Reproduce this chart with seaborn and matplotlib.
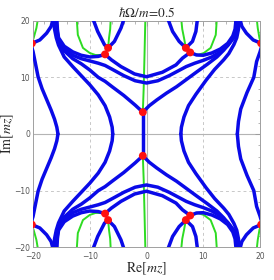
import pandas as pd
import matplotlib
matplotlib.use("Agg")
import matplotlib.pyplot as plt
import seaborn as sns
from matplotlib.ticker import MultipleLocator

# Points read off the upper half plane (Im > 0).
# The picture is mirrored in the real axis, so the lower half reuses them.

# blue lines
outer_left = [(-20.2, 15.2), (-20.0, 14.6), (-19.6, 12.6), (-19.1, 10.1), (-18.4, 8.0),
              (-17.6, 6.1), (-16.8, 4.2), (-16.2, 2.6), (-15.8, 1.2), (-15.6, 0.0)]
outer_right = [(20.2, 15.2), (20.0, 14.5), (19.4, 12.8), (18.9, 10.0), (17.7, 7.3),
               (16.6, 4.4), (16.2, 2.2), (16.0, 0.0)]
edge_arc_left = [(-20.2, 16.0), (-18.8, 16.6), (-17.6, 17.8), (-16.8, 19.0), (-16.4, 20.5)]
edge_arc_right = [(20.2, 16.0), (18.8, 16.6), (17.6, 17.8), (16.8, 19.0), (16.4, 20.5)]
mid_left = [(-16.4, 20.5), (-16.2, 18.5), (-15.9, 17.0), (-15.5, 15.7), (-14.5, 13.6),
            (-13.0, 11.9), (-11.5, 10.3), (-10.0, 8.7), (-8.5, 6.9), (-7.3, 5.0),
            (-6.5, 3.0), (-6.05, 1.2), (-5.95, 0.0)]
mid_right = [(16.4, 20.5), (16.2, 18.5), (15.9, 17.0), (15.4, 15.8), (14.5, 14.2),
             (13.6, 13.1), (12.0, 11.4), (10.5, 9.5), (8.7, 7.0), (7.4, 5.0),
             (6.6, 3.0), (6.15, 1.2), (6.05, 0.0)]
v_left = [(-16.2, 20.5), (-16.0, 18.5), (-15.5, 16.2), (-14.5, 14.7), (-13.0, 13.3),
          (-11.5, 12.4), (-10.0, 11.3), (-8.5, 10.0), (-7.3, 9.3), (-6.0, 8.3),
          (-4.0, 6.8), (-2.0, 5.1), (-0.65, 3.85)]
v_right = [(16.2, 20.5), (16.0, 18.5), (15.5, 17.2), (14.75, 16.2), (13.6, 14.8),
           (12.4, 13.6), (10.7, 12.3), (8.9, 11.0), (7.0, 9.6), (5.3, 8.35),
           (3.5, 7.2), (1.8, 6.0), (0.5, 5.0), (-0.65, 3.85)]
bowl = [(-16.0, 20.5), (-15.8, 18.5), (-15.5, 16.6), (-14.5, 15.0), (-13.0, 13.9),
        (-11.5, 13.3), (-10.0, 12.9), (-8.5, 12.5), (-7.3, 12.1), (-6.0, 11.4),
        (-4.0, 10.3), (-2.0, 9.4), (0.0, 9.0), (2.0, 9.4), (4.0, 10.3), (5.5, 11.1),
        (7.0, 11.9), (8.5, 12.5), (10.0, 13.0), (11.5, 13.6), (13.0, 14.5),
        (14.3, 15.6), (15.3, 17.0), (15.8, 18.5), (16.0, 20.5)]
fan_left = [(-15.8, 20.5), (-15.7, 18.5), (-15.5, 17.0), (-14.5, 15.5), (-13.0, 14.5),
            (-11.5, 13.9), (-10.0, 13.6), (-8.5, 13.7), (-7.3, 14.06)]
fan_right = [(15.8, 20.5), (15.6, 18.5), (15.2, 17.3), (14.3, 16.0), (13.0, 15.0),
             (11.5, 14.3), (10.0, 13.9), (8.8, 13.95), (7.7, 14.4)]
inner_arc = [(-7.3, 14.06), (-6.2, 13.1), (-4.5, 11.9), (-2.1, 10.6), (0.0, 10.1),
             (2.8, 10.9), (5.2, 12.2), (6.35, 13.4), (7.7, 14.4)]
cup_left = [(-9.5, 20.5), (-8.6, 18.1), (-7.4, 15.75), (-6.77, 15.2), (-5.65, 16.35),
            (-4.5, 18.7), (-3.9, 20.5)]
cup_right = [(3.7, 20.5), (4.6, 18.1), (5.75, 16.35), (6.93, 15.2), (8.1, 16.35),
             (8.7, 18.1), (9.0, 20.5)]
axis_stem = [(-0.65, 3.85), (-0.65, 0.0)]

# green lines
green_center = [(-0.65, 3.85), (-0.5, 8.0), (-0.35, 14.0), (-0.2, 20.5)]
green_cup_left = [(-12.3, 20.5), (-12.1, 17.5), (-11.2, 15.2), (-10.0, 14.3),
                  (-9.0, 13.95), (-8.0, 13.95), (-7.3, 14.06)]
green_up_left = [(-6.77, 15.2), (-6.6, 17.0), (-6.4, 18.5), (-6.3, 20.5)]
green_cup_right = [(12.4, 20.5), (12.2, 17.5), (11.3, 15.2), (10.1, 14.3),
                   (9.2, 14.0), (8.3, 14.1), (7.7, 14.4)]
green_up_right = [(6.93, 15.2), (6.6, 17.0), (6.3, 18.5), (6.1, 20.5)]
green_edge_left = [(-20.2, 16.1), (-19.9, 16.9), (-19.4, 18.7), (-19.1, 20.5)]
green_edge_right = [(20.2, 16.1), (19.9, 16.9), (19.6, 18.7), (19.4, 20.5)]

# turning points (red)
turn_re = [-0.65, -7.3, -6.77, 6.93, 7.7, -20.2, 20.2]
turn_im = [3.85, 14.06, 15.2, 15.2, 14.4, 16.0, 16.0]

blue_curves = [outer_left, outer_right, edge_arc_left, edge_arc_right, mid_left,
               mid_right, v_left, v_right, bowl, fan_left, fan_right, inner_arc,
               cup_left, cup_right, axis_stem]
green_curves = [green_center, green_cup_left, green_up_left, green_cup_right,
                green_up_right, green_edge_left, green_edge_right]

BLUE = "#0a0ae8"
GREEN = "#2edc22"


def to_frame(curves):
    rows = []
    for i, pts in enumerate(curves):
        for sign in (1, -1):
            for re, im in pts:
                rows.append({"curve": f"{i}{sign}", "re": re, "im": sign * im})
    return pd.DataFrame(rows)


def stokes_plot():
    sns.set_style("white")
    plt.rcParams["mathtext.fontset"] = "stix"

    fig = plt.figure(figsize=(2.74, 2.80), dpi=100)
    ax = fig.add_axes([0.1204, 0.117, 0.8286, 0.809])

    for v in (-10, 10):
        ax.axvline(v, color="#c8c8c8", lw=0.7, ls=(0, (3, 3)), zorder=0)
        ax.axhline(v, color="#c8c8c8", lw=0.7, ls=(0, (3, 3)), zorder=0)
    ax.axvline(0, color="#b4b4b4", lw=0.8, zorder=0)
    ax.axhline(0, color="#b4b4b4", lw=0.8, zorder=0)

    sns.lineplot(data=to_frame(green_curves), x="re", y="im", units="curve",
                 estimator=None, sort=False, color=GREEN, lw=1.4, ax=ax,
                 legend=False, zorder=2)
    sns.lineplot(data=to_frame(blue_curves), x="re", y="im", units="curve",
                 estimator=None, sort=False, color=BLUE, lw=2.5, ax=ax,
                 legend=False, zorder=3)

    pts = pd.DataFrame({"re": turn_re + turn_re,
                        "im": turn_im + [-v for v in turn_im]})
    sns.scatterplot(data=pts, x="re", y="im", color="#ff1010", s=32,
                    edgecolor="none", ax=ax, zorder=4, clip_on=True)

    ax.set_xlim(-20, 20)
    ax.set_ylim(-20, 20)
    ax.xaxis.set_major_locator(MultipleLocator(10))
    ax.yaxis.set_major_locator(MultipleLocator(10))
    ax.xaxis.set_minor_locator(MultipleLocator(2))
    ax.yaxis.set_minor_locator(MultipleLocator(2))
    ax.tick_params(which="both", direction="in", top=True, right=True,
                   color="#999999", labelsize=5.5, labelcolor="#555555")
    ax.tick_params(axis="x", pad=3.5)
    ax.tick_params(axis="y", pad=2)
    ax.tick_params(which="major", length=3.5, width=0.6)
    ax.tick_params(which="minor", length=1.8, width=0.5)
    for s in ax.spines.values():
        s.set_color("#a0a0a0")
        s.set_linewidth(0.7)

    ax.set_title(r"$\hbar\Omega/m\!=\!0.5$", fontsize=9.5, pad=3)
    ax.set_xlabel(r"$\mathrm{Re}[mz]$", fontsize=10, labelpad=0)
    ax.set_ylabel(r"$\mathrm{Im}[mz]$", fontsize=10, labelpad=-1)

    fig.savefig("out.png", dpi=100)


if __name__ == "__main__":
    stokes_plot()
